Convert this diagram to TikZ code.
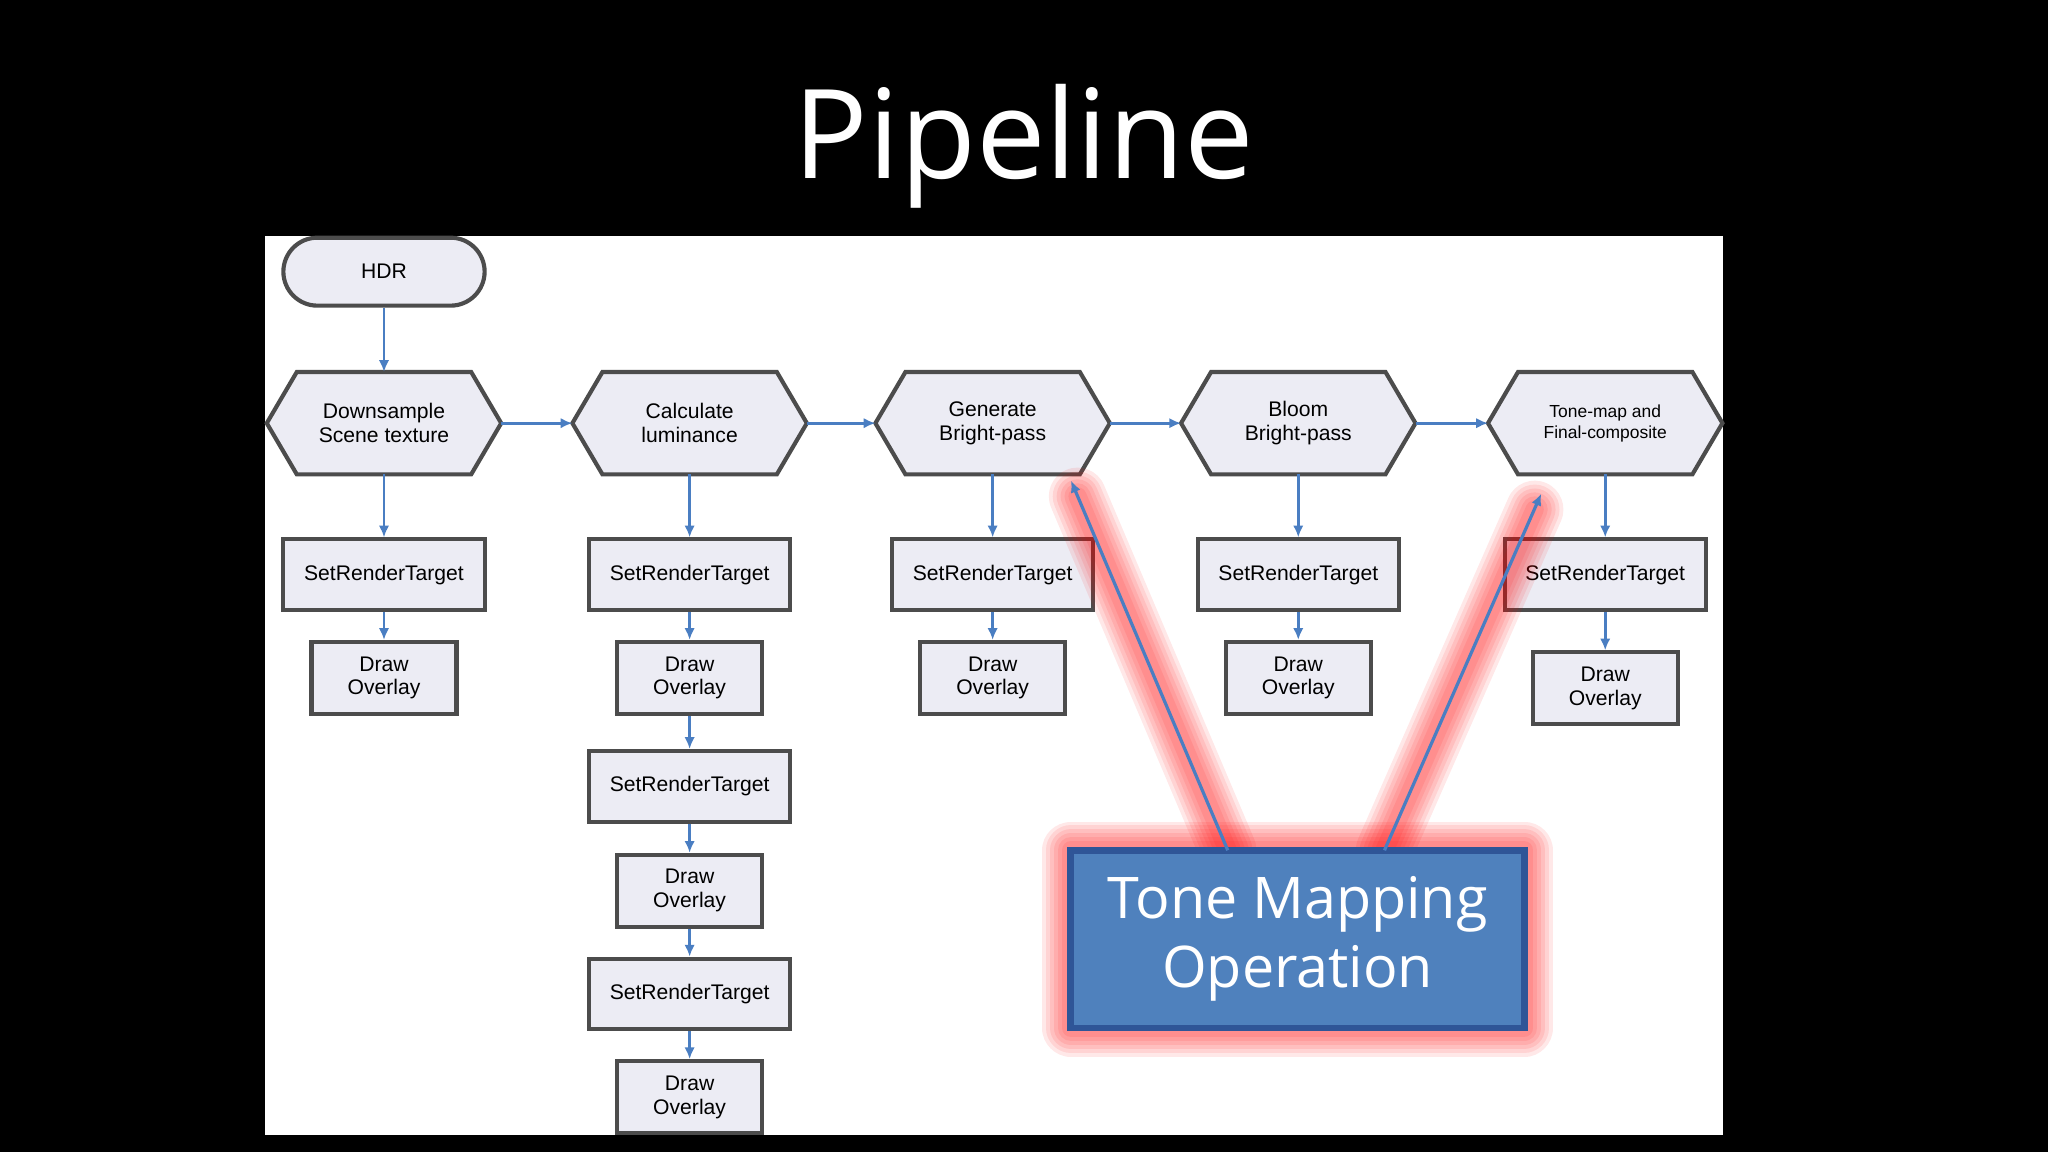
\documentclass[tikz,border=0pt]{standalone}
\usepackage{fontspec}
\setmainfont{Liberation Sans}
\newfontfamily\titlefont{Open Sans}
\usetikzlibrary{arrows.meta}
\definecolor{lnblue}{HTML}{4A7EC2}
\definecolor{boxfill}{HTML}{ECECF4}
\definecolor{tmfill}{HTML}{4F81BD}
\definecolor{tmedge}{HTML}{2F5597}
\tikzset{
  box/.style={draw=black!70,fill=boxfill,line width=0.9pt,inner sep=0pt,font=\fontsize{4.6}{5.2}\selectfont,align=center},
  srt/.style={box,minimum width=1.54cm,minimum height=0.54cm},
  dov/.style={box,minimum width=1.11cm,minimum height=0.55cm},
  hexn/.style={inner sep=0pt,minimum width=1.78cm,minimum height=0.77cm,font=\fontsize{4.6}{5.2}\selectfont,align=center},
  hexs/.style={draw=black!70,fill=boxfill,line width=0.9pt},
  conn/.style={draw=lnblue,line width=0.6pt,-{Latex[length=0.09cm,width=0.08cm]}},
  glow/.style={draw=red,line cap=round,line join=round,opacity=0.09}
}
\begin{document}
\begin{tikzpicture}[x=0.01cm,y=-0.01cm]
\fill[black] (0,0) rectangle (1568,882);
\useasboundingbox (0,0) rectangle (1568,882);
\node[text=white,font=\titlefont\fontsize{27}{30}\selectfont] (title) at (784,112) {Pipeline};
\fill[white] (203,181) rectangle (1319,869);
% HDR
\node[box,rounded corners=0.26cm,minimum width=1.54cm,minimum height=0.52cm] (hdr) at (294,208) {HDR};
% hexagons
\foreach \n/\x/\t in {h1/294/{Downsample\\Scene texture},h2/528/{Calculate\\luminance},h3/760/{Generate\\Bright-pass},h4/994/{Bloom\\Bright-pass}}{
  \node[hexn] (\n) at (\x,324) {};
  \draw[hexs] (\n.west) -- ([xshift=0.23cm]\n.north west) -- ([xshift=-0.23cm]\n.north east) -- (\n.east) -- ([xshift=-0.23cm]\n.south east) -- ([xshift=0.23cm]\n.south west) -- cycle;
  \node[hexn] at (\x,324) {\t};
}
\node[hexn] (h5) at (1229,324) {};
\draw[hexs] (h5.west) -- ([xshift=0.23cm]h5.north west) -- ([xshift=-0.23cm]h5.north east) -- (h5.east) -- ([xshift=-0.23cm]h5.south east) -- ([xshift=0.23cm]h5.south west) -- cycle;
\node[hexn,font=\fontsize{3.8}{4.6}\selectfont] at (1229,324) {Tone-map and\\Final-composite};
% columns
\node[srt] (s1) at (294,440) {SetRenderTarget};
\node[dov] (d1) at (294,519) {Draw\\Overlay};
\node[srt] (s2) at (528,440) {SetRenderTarget};
\node[dov] (d2) at (528,519) {Draw\\Overlay};
\node[srt] (s2b) at (528,602) {SetRenderTarget};
\node[dov] (d2b) at (528,682) {Draw\\Overlay};
\node[srt] (s2c) at (528,761) {SetRenderTarget};
\node[dov] (d2c) at (528,840) {Draw\\Overlay};
\node[srt] (s3) at (760,440) {SetRenderTarget};
\node[dov] (d3) at (760,519) {Draw\\Overlay};
\node[srt] (s4) at (994,440) {SetRenderTarget};
\node[dov] (d4) at (994,519) {Draw\\Overlay};
\node[srt] (s5) at (1229,440) {SetRenderTarget};
\node[dov] (d5) at (1229,527) {Draw\\Overlay};
% connectors
\draw[conn] (hdr) -- (h1);
\draw[conn] (h1) -- (h2);
\draw[conn] (h2) -- (h3);
\draw[conn] (h3) -- (h4);
\draw[conn] (h4) -- (h5);
\foreach \a/\b in {h1/s1,s1/d1,h2/s2,s2/d2,d2/s2b,s2b/d2b,d2b/s2c,s2c/d2c,h3/s3,s3/d3,h4/s4,s4/d4,h5/s5,s5/d5}{
  \draw[conn] (\a) -- (\b);
}
% glow
\coordinate (g1) at (820,368);
\coordinate (g2) at (1180,378);
\coordinate (b1) at (940,651);
\coordinate (b2) at (1060,651);
\foreach \w in {44,38,32,26,20,14}{
  \draw[glow,line width=\w*0.01cm] (b1) -- ([shift={(5,12)}]g1);
  \draw[glow,line width=\w*0.01cm] (b2) -- ([shift={(-5,12)}]g2);
  \draw[glow,line width=\w*0.01cm] (820,651) rectangle (1167,787);
}
\node[draw=tmedge,fill=tmfill,line width=1.5pt,minimum width=3.47cm,minimum height=1.36cm,inner sep=0pt,text=white,align=center,font=\titlefont\fontsize{12.5}{15}\selectfont] (tm) at (993.5,719) {Tone Mapping\\Operation};
\draw[conn,line width=0.7pt] (b1) -- (g1);
\draw[conn,line width=0.7pt] (b2) -- (g2);
\end{tikzpicture}
\end{document}
